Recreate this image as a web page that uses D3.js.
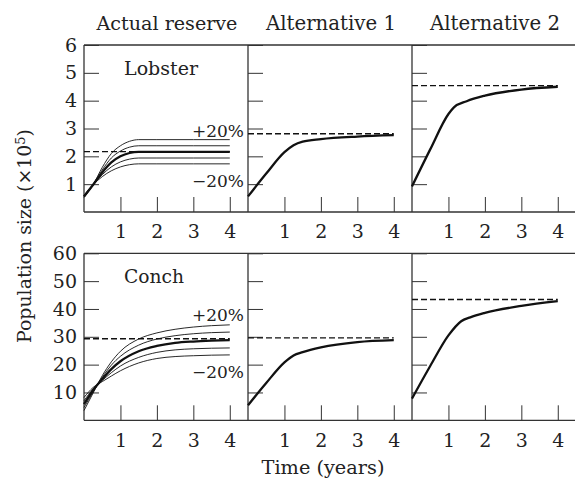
<!DOCTYPE html>
<html>
<head>
<meta charset="utf-8">
<script src="https://cdn.jsdelivr.net/npm/d3@7"></script>
<style>
  body { margin: 0; background: #fff; }
  svg text { font-family: "DejaVu Serif", serif; fill: #222; }
</style>
</head>
<body>
<svg id="chart" width="575" height="478"></svg>
<script>
// headings + ticks
const columns = ['Actual reserve', 'Alternative 1', 'Alternative 2'];
const timeTicks = [1, 2, 3, 4];
const lobsterTicks = [1, 2, 3, 4, 5, 6];
const conchTicks = [10, 20, 30, 40, 50, 60];

// lobster, actual reserve: runs at +20%, +10%, base, -10%, -20%
const lobsterTime = [0, 0.25, 0.5, 0.75, 1, 1.25, 1.5, 2, 3, 4];
const lobsterUp20 = [0.52, 0.98, 1.6, 2.1, 2.38, 2.54, 2.6, 2.6, 2.6, 2.6];
const lobsterUp10 = [0.54, 0.98, 1.51, 1.94, 2.19, 2.33, 2.38, 2.38, 2.38, 2.38];
const lobsterBase = [0.56, 0.98, 1.42, 1.78, 2.0, 2.12, 2.16, 2.16, 2.16, 2.16];
const lobsterDown10 = [0.58, 0.98, 1.34, 1.62, 1.8, 1.9, 1.94, 1.94, 1.94, 1.94];
const lobsterDown20 = [0.6, 0.98, 1.27, 1.48, 1.62, 1.7, 1.73, 1.73, 1.73, 1.73];

// lobster, alternatives
const lobsterAlt1Time = [0, 0.5, 1, 1.25, 1.5, 2, 3, 4];
const lobsterAlt1 = [0.56, 1.38, 2.15, 2.4, 2.53, 2.62, 2.71, 2.76];
const lobsterAlt2Time = [0, 0.5, 1, 1.15, 1.5, 2, 3, 4];
const lobsterAlt2 = [0.92, 2.25, 3.52, 3.76, 3.98, 4.18, 4.4, 4.5];
const lobsterTargets = [2.17, 2.81, 4.54];

// conch, actual reserve
const conchTime = [0, 0.25, 0.5, 0.75, 1, 1.5, 2, 2.5, 3, 3.5, 4];
const conchUp20 = [3.5, 9.8, 16, 21, 24.8, 29.2, 31.4, 32.7, 33.5, 34.0, 34.3];
const conchUp10 = [4.6, 10.2, 15.4, 19.8, 23.0, 27.0, 29.2, 30.4, 31.1, 31.5, 31.7];
const conchBase = [5.8, 10.8, 14.8, 18.4, 21.2, 24.8, 26.7, 27.8, 28.3, 28.6, 28.8];
const conchDown10 = [7.0, 11.3, 14.3, 17.1, 19.5, 22.6, 24.4, 25.3, 25.7, 25.9, 26.0];
const conchDown20 = [8.2, 11.8, 13.9, 15.9, 17.8, 20.6, 22.2, 22.9, 23.2, 23.4, 23.5];

// conch, alternatives
const conchAlt1Time = [0, 0.5, 1, 1.25, 1.5, 2, 3, 4];
const conchAlt1 = [5.4, 13.4, 20.8, 23.3, 24.5, 26.2, 28.1, 28.8];
const conchAlt2Time = [0, 0.5, 1, 1.35, 1.6, 2, 3, 4];
const conchAlt2 = [7.8, 19.5, 30.5, 35.6, 37, 38.6, 41.1, 42.8];
const conchTargets = [29.3, 29.6, 43.4];

const svg = d3.select('#chart');
const left = 84, panelW = 164, panelH = 167;
const rowTop = [45, 253.3];
const ink = '#222';
const fs = 19;

const zip = (ts, vs) => ts.map((t, i) => ({t: t, v: vs[i]}));

// scale a text's font so it spans about `w` pixels (the reference face is wider)
function fit(sel, w) {
  const n = sel.node();
  const len = n.getComputedTextLength();
  const size = parseFloat(sel.attr('font-size'));
  if (len > 0) sel.attr('font-size', (size * w / len).toFixed(2));
  return sel;
}

const rows = [
  {
    name: 'Lobster', nameW: 74, max: 6, ticks: lobsterTicks, targets: lobsterTargets,
    runs: [
      [zip(lobsterTime, lobsterUp20), zip(lobsterTime, lobsterUp10), zip(lobsterTime, lobsterDown10), zip(lobsterTime, lobsterDown20)],
      [], []
    ],
    main: [zip(lobsterTime, lobsterBase), zip(lobsterAlt1Time, lobsterAlt1), zip(lobsterAlt2Time, lobsterAlt2)],
    plus: 137, minus: 187
  },
  {
    name: 'Conch', nameW: 60, max: 60, ticks: conchTicks, targets: conchTargets,
    runs: [
      [zip(conchTime, conchUp20), zip(conchTime, conchUp10), zip(conchTime, conchDown10), zip(conchTime, conchDown20)],
      [], []
    ],
    main: [zip(conchTime, conchBase), zip(conchAlt1Time, conchAlt1), zip(conchAlt2Time, conchAlt2)],
    plus: 321, minus: 378
  }
];

rows.forEach(function(row, r) {
  const y0 = rowTop[r];
  const y = d3.scaleLinear().domain([0, row.max]).range([y0 + panelH, y0]);

  columns.forEach(function(col, c) {
    const x0 = left + c * panelW;
    const x = d3.scaleLinear().domain([0, 4.5]).range([x0, x0 + panelW]);
    const g = svg.append('g');

    // inward ticks
    const xAxis = d3.axisBottom(x).tickValues(timeTicks).tickFormat(d3.format('d'))
      .tickSizeInner(-15).tickSizeOuter(0).tickPadding(13);
    const gx = g.append('g').attr('transform', 'translate(0,' + (y0 + panelH) + ')').call(xAxis);
    const yAxis = d3.axisLeft(y).tickValues(row.ticks).tickFormat(c > 0 ? '' : d3.format('d'))
      .tickSizeInner(-15).tickSizeOuter(0).tickPadding(7);
    const gy = g.append('g').attr('transform', 'translate(' + x0 + ',0)').call(yAxis);
    [gx, gy].forEach(function(a) {
      a.select('.domain').remove();
      a.selectAll('line').attr('stroke', '#333').attr('stroke-width', 1);
      a.selectAll('text').attr('font-size', fs).attr('font-family', '"DejaVu Serif", serif').attr('fill', ink);
    });

    // frame: left side, top and bottom
    g.append('line').attr('x1', x0).attr('x2', x0).attr('y1', y0).attr('y2', y0 + panelH)
      .attr('stroke', '#333').attr('stroke-width', 1.3);
    [y0, y0 + panelH].forEach(function(yy) {
      g.append('line').attr('x1', x0).attr('x2', x0 + panelW).attr('y1', yy).attr('y2', yy)
        .attr('stroke', '#333').attr('stroke-width', 1.3);
    });

    const line = d3.line().curve(d3.curveMonotoneX).x(d => x(d.t)).y(d => y(d.v));

    // target level
    g.append('line').attr('x1', x(0)).attr('x2', x(4)).attr('y1', y(row.targets[c])).attr('y2', y(row.targets[c]))
      .attr('stroke', '#111').attr('stroke-width', 1.4).attr('stroke-dasharray', '6,3');

    row.runs[c].forEach(function(run) {
      g.append('path').attr('d', line(run)).attr('fill', 'none').attr('stroke', '#111').attr('stroke-width', 0.9);
    });
    g.append('path').attr('d', line(row.main[c])).attr('fill', 'none').attr('stroke', '#111').attr('stroke-width', 2.3);

    if (c === 0) {
      fit(g.append('text').attr('x', 124).attr('y', y0 + 30).attr('font-size', fs).text(row.name), row.nameW);
      fit(g.append('text').attr('x', 244).attr('y', row.plus).attr('text-anchor', 'end').attr('font-size', fs).text('+20%'), 52);
      fit(g.append('text').attr('x', 244).attr('y', row.minus).attr('text-anchor', 'end').attr('font-size', fs).text('\u221220%'), 52);
    }
  });
});

// column headings
const titleW = [141, 130, 130];
columns.forEach(function(col, c) {
  fit(svg.append('text').attr('x', left + c * panelW + panelW / 2 + 1).attr('y', 30)
    .attr('text-anchor', 'middle').attr('font-size', fs).text(col), titleW[c]);
});

// axis titles
const yLab = svg.append('text').attr('transform', 'translate(31,236) rotate(-90)')
  .attr('text-anchor', 'middle').attr('font-size', fs);
yLab.append('tspan').text('Population size (\u00d710');
yLab.append('tspan').attr('dy', '-0.45em').attr('font-size', 13).text('5');
yLab.append('tspan').attr('dy', '0.3em').text(')');
fit(yLab, 214);

fit(svg.append('text').attr('x', 323).attr('y', 474).attr('text-anchor', 'middle').attr('font-size', fs).text('Time (years)'), 123);
</script>
</body>
</html>
